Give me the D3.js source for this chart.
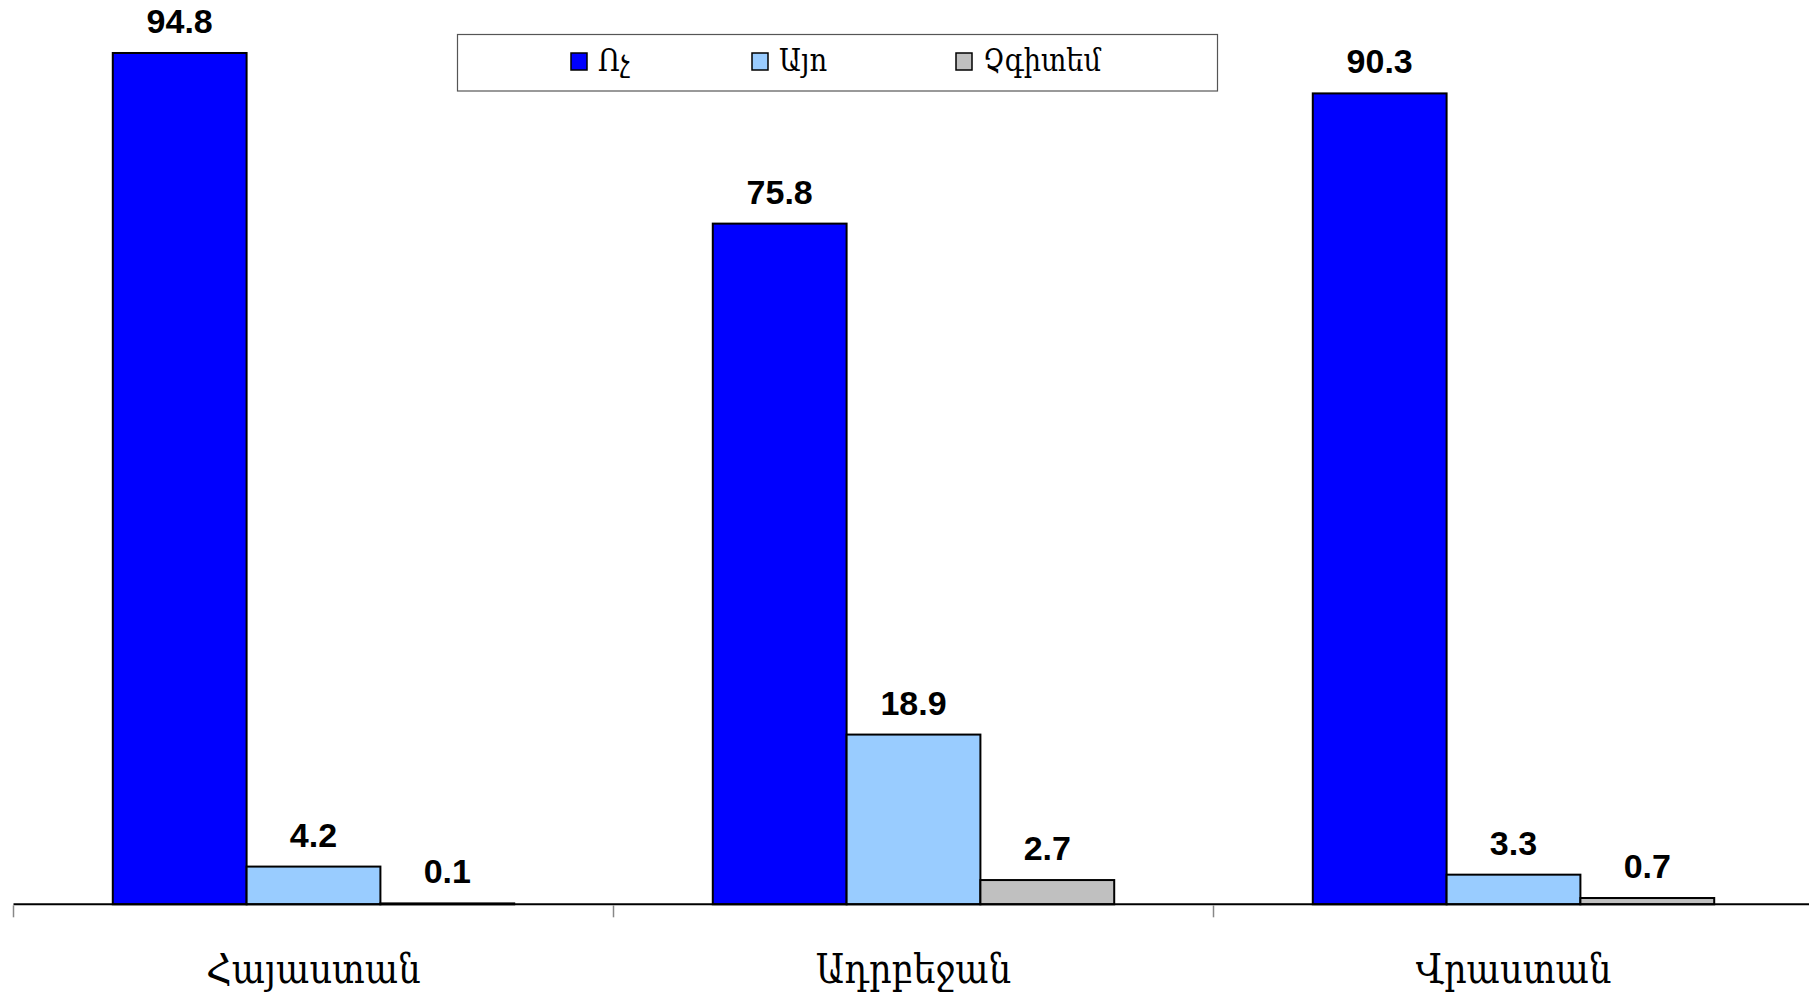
<!DOCTYPE html>
<html>
<head>
<meta charset="utf-8">
<script src="https://cdn.jsdelivr.net/npm/d3@7"></script>
<style>
  html, body { margin: 0; padding: 0; background: #fff; }
  svg { display: block; }
</style>
</head>
<body>
<svg id="chart" width="1809" height="998"></svg>
<script>
const categories = ["Հայաստան", "Ադրբեջան", "Վրաստան"];
const seriesNames = ["Ոչ", "Այո", "Չգիտեմ"];
const seriesColors = ["#0000FF", "#99CCFF", "#C0C0C0"];
const valuesNo = [94.8, 75.8, 90.3];
const valuesYes = [4.2, 18.9, 3.3];
const valuesDontKnow = [0.1, 2.7, 0.7];
const seriesValues = [valuesNo, valuesYes, valuesDontKnow];

const svg = d3.select("#chart");

const axisY = 904.3;
const x0 = d3.scaleBand().domain(categories).range([13.5, 1813.5]).paddingInner(0).paddingOuter(0);
const x1 = d3.scaleBand().domain(seriesNames).range([0, x0.bandwidth()]).paddingInner(0).paddingOuter(0.742);
const y = d3.scaleLinear().domain([0, 100]).range([axisY, axisY - 898]);

const data = [];
categories.forEach((c, ci) => {
  seriesNames.forEach((s, si) => {
    data.push({ cat: c, ser: s, si, value: seriesValues[si][ci] });
  });
});

const g = svg.append("g");
g.selectAll("rect.bar").data(data).enter().append("rect")
  .attr("class", "bar")
  .attr("x", d => x0(d.cat) + x1(d.ser))
  .attr("y", d => y(d.value))
  .attr("width", x1.bandwidth())
  .attr("height", d => Math.max(0, y(0) - y(d.value)))
  .attr("fill", d => seriesColors[d.si])
  .attr("stroke", "#000")
  .attr("stroke-width", 2);

g.selectAll("text.val").data(data).enter().append("text")
  .attr("class", "val")
  .attr("x", d => x0(d.cat) + x1(d.ser) + x1.bandwidth() / 2)
  .attr("y", d => y(d.value) - 20)
  .attr("text-anchor", "middle")
  .attr("font-family", "'Liberation Sans', Arial, sans-serif")
  .attr("font-weight", "bold")
  .attr("font-size", 34)
  .attr("fill", "#000")
  .text(d => d.value.toFixed(1));

// x axis
const axisG = svg.append("g").attr("transform", `translate(0,${axisY})`);
axisG.append("line")
  .attr("x1", 13.5).attr("x2", 1813.5)
  .attr("y1", 0).attr("y2", 0)
  .attr("stroke", "#000").attr("stroke-width", 2);
const tickPos = categories.map(c => x0(c));
axisG.selectAll("line.tick").data(tickPos).enter().append("line")
  .attr("class", "tick")
  .attr("x1", d => d).attr("x2", d => d)
  .attr("y1", 1).attr("y2", 13)
  .attr("stroke", "#888").attr("stroke-width", 1.5);

axisG.selectAll("g.cat").data(categories).enter().append("g")
  .attr("class", "cat")
  .attr("transform", d => `translate(${x0(d) + x0.bandwidth() / 2},79) scale(0.86,1)`)
  .append("text")
  .attr("text-anchor", "middle")
  .attr("font-family", "'DejaVu Serif', 'DejaVu Sans', serif")
  .attr("font-size", 41)
  .attr("fill", "#000")
  .text(d => d);

// legend
const leg = svg.append("g");
leg.append("rect")
  .attr("x", 457.5).attr("y", 34.5)
  .attr("width", 760).attr("height", 56.5)
  .attr("fill", "#fff").attr("stroke", "#555").attr("stroke-width", 1.2);
const legX = [571, 752, 956];
const items = leg.selectAll("g.item").data(seriesNames).enter().append("g")
  .attr("class", "item")
  .attr("transform", (d, i) => `translate(${legX[i]},53)`);
items.append("rect")
  .attr("width", 16).attr("height", 17)
  .attr("fill", (d, i) => seriesColors[i])
  .attr("stroke", "#000").attr("stroke-width", 1.5);
items.append("g")
  .attr("transform", "translate(27,18) scale(0.88,1)")
  .append("text")
  .attr("font-family", "'DejaVu Serif', 'DejaVu Sans', serif")
  .attr("font-size", 31)
  .attr("fill", "#000")
  .text(d => d);
</script>
</body>
</html>
